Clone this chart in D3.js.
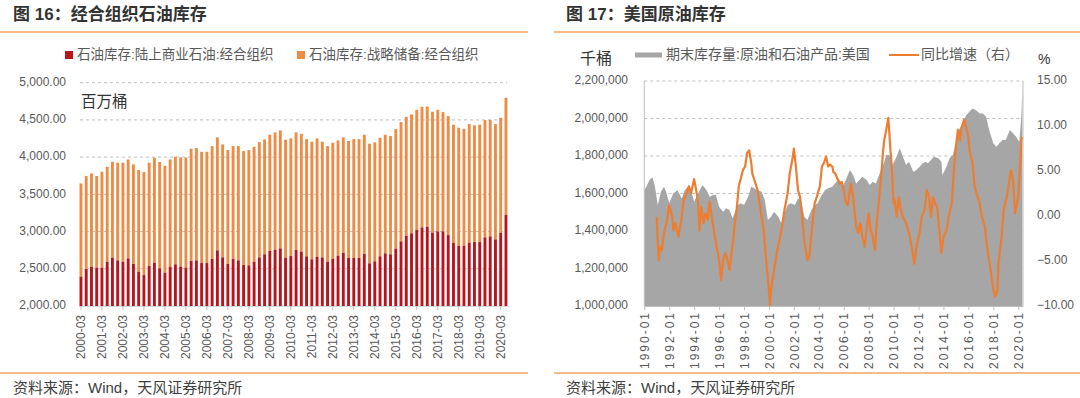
<!DOCTYPE html>
<html>
<head>
<meta charset="utf-8">
<script src="https://cdn.jsdelivr.net/npm/d3@7"></script>
<style>
  body { margin: 0; background: #fff; }
  svg { display: block; font-family: "Liberation Sans", "Noto Sans CJK SC", sans-serif; }
</style>
</head>
<body>
<svg id="chart" width="1080" height="398"></svg>
<script>
// ---- 图16 data: quarterly OECD stocks (million barrels)
const quarters = [
  "2000-03","2000-06","2000-09","2000-12","2001-03","2001-06","2001-09","2001-12",
  "2002-03","2002-06","2002-09","2002-12","2003-03","2003-06","2003-09","2003-12",
  "2004-03","2004-06","2004-09","2004-12","2005-03","2005-06","2005-09","2005-12",
  "2006-03","2006-06","2006-09","2006-12","2007-03","2007-06","2007-09","2007-12",
  "2008-03","2008-06","2008-09","2008-12","2009-03","2009-06","2009-09","2009-12",
  "2010-03","2010-06","2010-09","2010-12","2011-03","2011-06","2011-09","2011-12",
  "2012-03","2012-06","2012-09","2012-12","2013-03","2013-06","2013-09","2013-12",
  "2014-03","2014-06","2014-09","2014-12","2015-03","2015-06","2015-09","2015-12",
  "2016-03","2016-06","2016-09","2016-12","2017-03","2017-06","2017-09","2017-12",
  "2018-03","2018-06","2018-09","2018-12","2019-03","2019-06","2019-09","2019-12",
  "2020-03","2020-06"
];
const quarterTicks = ["2000-03","2001-03","2002-03","2003-03","2004-03","2005-03","2006-03",
  "2007-03","2008-03","2009-03","2010-03","2011-03","2012-03","2013-03","2014-03","2015-03",
  "2016-03","2017-03","2018-03","2019-03","2020-03"];
// 石油库存:陆上商业石油:经合组织
const commercial = [
  2394,2497,2524,2515,2515,2595,2649,2613,2595,2640,2564,2461,2416,2537,2582,2506,
  2448,2528,2560,2528,2515,2604,2613,2577,2577,2631,2748,2653,2564,2631,2613,2551,
  2546,2595,2653,2694,2739,2756,2774,2649,2671,2752,2730,2667,2627,2662,2653,2595,
  2636,2676,2712,2645,2645,2645,2698,2573,2600,2667,2707,2694,2770,2868,2944,2976,
  3021,3056,3065,2985,3003,3003,2953,2846,2806,2810,2850,2859,2859,2922,2935,2895,
  2985,3222
];
// 石油库存:战略储备:经合组织
const strategic = [
  1253,1249,1257,1231,1289,1276,1289,1312,1330,1329,1338,1365,1383,1388,1410,1428,
  1436,1441,1445,1468,1481,1509,1509,1495,1495,1517,1517,1518,1531,1517,1535,1530,
  1549,1544,1549,1544,1562,1576,1585,1585,1580,1580,1584,1575,1580,1589,1554,1553,
  1557,1549,1553,1571,1597,1597,1603,1607,1598,1593,1594,1589,1607,1603,1598,1598,
  1615,1621,1616,1625,1633,1602,1598,1589,1589,1571,1594,1567,1576,1576,1563,1549,
  1544,1576
];
const barTicks = [2000, 2500, 3000, 3500, 4000, 4500, 5000];

// ---- 图17 data: US crude + products stocks (thousand barrels), YoY %
const stockDates = [
  "1990-01","1990-03","1990-06","1990-09","1990-11","1991-02","1991-05","1991-08","1991-10",
  "1992-01","1992-05","1992-09","1993-01","1993-04","1993-07","1993-10","1994-01","1994-05",
  "1994-09","1995-01","1995-04","1995-07","1995-10","1996-01","1996-05","1996-08","1996-11",
  "1997-02","1997-07","1997-10","1998-01","1998-05","1998-08","1998-11","1999-02","1999-06",
  "1999-09","1999-12","2000-03","2000-06","2000-10","2001-01","2001-04","2001-07","2001-10",
  "2002-02","2002-05","2002-08","2002-11","2003-02","2003-06","2003-09","2003-12","2004-03",
  "2004-07","2004-10","2005-02","2005-06","2005-09","2005-12","2006-03","2006-07","2006-10",
  "2007-01","2007-04","2007-07","2007-11","2008-02","2008-05","2008-08","2008-11","2009-03",
  "2009-06","2009-09","2009-12","2010-04","2010-07","2010-10","2011-01","2011-04","2011-08",
  "2011-11","2012-02","2012-05","2012-08","2012-10","2013-01","2013-04","2013-08","2013-11",
  "2013-12","2014-04","2014-07","2014-10","2015-01","2015-04","2015-08","2015-11","2016-02",
  "2016-05","2016-08","2016-12","2017-03","2017-06","2017-09","2018-01","2018-04","2018-07",
  "2018-10","2019-01","2019-05","2019-08","2019-11","2020-02","2020-04","2020-05"
];
const stockValues = [
  1618000,1636000,1672000,1686000,1645000,1538000,1610000,1636000,1610000,
  1549000,1601000,1618000,1574000,1618000,1636000,1618000,1556000,1601000,
  1645000,1618000,1583000,1592000,1592000,1530000,1503000,1521000,1512000,
  1468000,1539000,1548000,1539000,1583000,1636000,1628000,1618000,1610000,
  1565000,1459000,1476000,1503000,1476000,1441000,1494000,1539000,1548000,
  1539000,1574000,1565000,1476000,1459000,1512000,1539000,1548000,1583000,
  1618000,1628000,1636000,1663000,1672000,1636000,1672000,1725000,1699000,
  1654000,1672000,1690000,1672000,1645000,1663000,1654000,1699000,1752000,
  1805000,1805000,1752000,1796000,1841000,1796000,1752000,1770000,1716000,
  1725000,1743000,1761000,1770000,1761000,1779000,1796000,1788000,1770000,
  1699000,1743000,1788000,1805000,1868000,1939000,1983000,2019000,2036000,
  2054000,2045000,2027000,2027000,2010000,1939000,1868000,1850000,1868000,
  1885000,1885000,1939000,1921000,1903000,1876000,2010000,2170000
];
const pctDates = [
  "1991-01","1991-02","1991-03","1991-04","1991-06","1991-08","1991-11","1992-01","1992-04",
  "1992-05","1992-07","1992-10","1993-01","1993-03","1993-05","1993-08","1993-10","1994-01",
  "1994-03","1994-05","1994-06","1994-08","1994-10","1994-12","1995-02","1995-04","1995-06",
  "1995-08","1995-10","1996-01","1996-03","1996-05","1996-07","1996-09","1996-11","1997-01",
  "1997-03","1997-04","1997-06","1997-08","1997-12","1998-02","1998-04","1998-06","1998-08",
  "1998-09","1998-11","1999-02","1999-05","1999-08","1999-10","2000-01","2000-02","2000-03",
  "2000-06","2000-09","2001-01","2001-04","2001-07","2001-09","2001-12","2002-01","2002-03",
  "2002-05","2002-07","2002-09","2002-11","2003-02","2003-04","2003-06","2003-09","2003-11",
  "2004-02","2004-04","2004-06","2004-08","2004-10","2004-12","2005-02","2005-03","2005-05",
  "2005-09","2005-11","2006-01","2006-03","2006-05","2006-08","2006-10","2007-01","2007-03",
  "2007-05","2007-07","2007-09","2007-11","2008-01","2008-03","2008-05","2008-07","2008-09",
  "2008-11","2009-01","2009-03","2009-04","2009-06","2009-08","2009-10","2009-11","2010-01",
  "2010-02","2010-04","2010-06","2010-08","2010-10","2011-01","2011-04","2011-07","2011-09",
  "2011-11","2012-02","2012-04","2012-07","2012-09","2012-11","2013-01","2013-03","2013-05",
  "2013-07","2013-09","2013-11","2014-01","2014-04","2014-06","2014-09","2014-11","2015-01",
  "2015-03","2015-05","2015-06","2015-09","2016-01","2016-02","2016-05","2016-07","2016-10",
  "2016-12","2017-02","2017-05","2017-07","2017-10","2018-01","2018-03","2018-05","2018-06",
  "2018-09","2018-11","2019-02","2019-04","2019-06","2019-08","2019-10","2019-11","2020-01",
  "2020-03","2020-04","2020-05"
];
const pctValues = [
  -0.1,-3.0,-4.9,-3.4,-3.8,-1.9,-0.4,1.2,-0.1,
  -1.6,-0.8,-2.3,-0.1,1.8,2.3,3.3,2.5,4.1,
  2.9,1.4,-1.6,1.0,-0.8,0.3,-0.4,1.6,-0.1,
  -1.6,-3.0,-4.9,-7.1,-4.9,-4.1,-4.9,-6.0,-4.1,
  -2.3,-1.0,0.8,3.3,5.1,5.5,7.0,7.3,5.9,
  4.7,4.0,2.9,0.7,-1.6,-4.5,-8.2,-10.0,-8.2,
  -6.0,-3.8,-1.6,0.7,2.5,4.7,6.6,7.5,5.5,
  2.9,2.1,-0.1,-2.7,-4.9,-4.5,-1.9,1.4,2.1,
  3.3,5.5,5.9,6.6,5.5,5.7,5.5,4.9,4.7,
  3.6,3.8,2.9,1.6,1.2,3.6,2.1,-1.2,-1.9,
  -0.8,-2.3,-3.4,-1.6,0.3,-1.6,-2.3,-3.8,-0.4,
  1.8,4.4,7.3,8.4,9.6,10.9,7.3,5.9,1.4,
  1.8,-0.1,2.1,0.7,-0.1,-0.8,-1.9,-3.8,-5.3,
  -3.4,-1.9,-0.1,0.7,2.9,2.1,-0.1,2.1,1.4,
  1.0,-1.6,-4.1,-2.3,-1.6,-0.1,1.4,5.1,7.7,
  9.6,8.4,9.6,10.7,8.8,7.3,5.9,3.3,2.1,
  1.4,-0.1,-1.2,-3.4,-5.6,-8.2,-9.0,-8.2,-5.3,
  -2.3,0.7,2.1,3.6,5.1,4.0,0.3,1.0,2.1,
  5.9,8.4,8.8
];
const stockTicks = [1000000, 1200000, 1400000, 1600000, 1800000, 2000000, 2200000];
const pctTicks = [-10, -5, 0, 5, 10, 15];
const yearTicks = ["1990-01","1992-01","1994-01","1996-01","1998-01","2000-01","2002-01","2004-01",
  "2006-01","2008-01","2010-01","2012-01","2014-01","2016-01","2018-01","2020-01"];

const svg = d3.select("#chart");
const labelColor = "#595959";
const gridColor = "#BFBFBF";
const rule = "#F2A462";

// headers and footers
function frame(x0, x1, tx, title) {
  svg.append("text").attr("x", tx).attr("y", 16).attr("dominant-baseline", "middle")
    .attr("font-size", 17).attr("font-weight", "bold").attr("fill", "#333").text(title);
  svg.append("line").attr("x1", x0).attr("x2", x1).attr("y1", 32).attr("y2", 32)
    .attr("stroke", rule).attr("stroke-width", 1.5);
  svg.append("line").attr("x1", x0).attr("x2", x1).attr("y1", 373).attr("y2", 373)
    .attr("stroke", rule).attr("stroke-width", 1.5);
  svg.append("text").attr("x", tx).attr("y", 389).attr("dominant-baseline", "middle")
    .attr("font-size", 15).attr("fill", "#404040").text("资料来源：Wind，天风证券研究所");
}
frame(0, 528, 13, "图 16：经合组织石油库存");
frame(554, 1080, 566, "图 17：美国原油库存");

// ---------------- left chart
const x = d3.scaleBand().domain(quarters).range([78.2, 508.7])
  .paddingInner(0.45).paddingOuter(0.25);
const y = d3.scaleLinear().domain([2000, 5000]).range([306, 82.7]);

const left = svg.append("g");
left.selectAll("line.grid").data(barTicks.filter(d => d > 2000)).enter().append("line")
  .attr("x1", 80).attr("x2", 507).attr("y1", d => y(d)).attr("y2", d => y(d))
  .attr("stroke", gridColor).attr("stroke-dasharray", "3,3");
left.selectAll("text.ytick").data(barTicks).enter().append("text")
  .attr("x", 66).attr("y", d => y(d)).attr("text-anchor", "end")
  .attr("dominant-baseline", "middle").attr("font-size", 12).attr("fill", labelColor)
  .text(d3.format(",.2f"));

const bars = left.selectAll("g.bar").data(quarters).enter().append("g");
bars.append("rect")
  .attr("x", d => x(d)).attr("width", x.bandwidth())
  .attr("y", (d, i) => y(commercial[i] + strategic[i]))
  .attr("height", (d, i) => y(commercial[i]) - y(commercial[i] + strategic[i]))
  .attr("fill", "#EE8B45");
bars.append("rect")
  .attr("x", d => x(d)).attr("width", x.bandwidth())
  .attr("y", (d, i) => y(commercial[i]))
  .attr("height", (d, i) => y(2000) - y(commercial[i]))
  .attr("fill", "#B8141C");

const xAxis = left.append("g").attr("transform", "translate(0,306)")
  .call(d3.axisBottom(x).tickValues(quarterTicks).tickSize(4).tickSizeOuter(0));
xAxis.select(".domain").attr("stroke", "#D9D9D9");
xAxis.selectAll(".tick line").attr("stroke", "#BFBFBF");
xAxis.selectAll("text").attr("transform", "rotate(-90)").attr("text-anchor", "end")
  .attr("x", -9).attr("y", 0).attr("dy", "0.35em")
  .attr("font-size", 12).attr("fill", labelColor).attr("font-family", "Liberation Sans");

left.append("text").attr("x", 81).attr("y", 103).attr("dominant-baseline", "middle")
  .attr("font-size", 15.5).attr("fill", "#333").text("百万桶");

const legL = [
  { c: "#B8141C", x: 65, t: "石油库存:陆上商业石油:经合组织" },
  { c: "#EE8B45", x: 297, t: "石油库存:战略储备:经合组织" }
];
legL.forEach(l => {
  left.append("rect").attr("x", l.x).attr("y", 51).attr("width", 8).attr("height", 8).attr("fill", l.c);
  left.append("text").attr("x", l.x + 12).attr("y", 55).attr("dominant-baseline", "middle")
    .attr("font-size", 13.5).attr("fill", labelColor).text(l.t);
});

// ---------------- right chart
const parseM = d3.timeParse("%Y-%m");
const xt = d3.scaleTime().domain([new Date(1990, 0, 1), new Date(2020, 4, 20)]).range([644.3, 1023]);
const yl = d3.scaleLinear().domain([1000000, 2200000]).range([306, 81]);
const yr = d3.scaleLinear().domain([-10, 15]).range([306, 81]);

const right = svg.append("g");
right.selectAll("line.grid").data(stockTicks.filter(d => d > 1000000)).enter().append("line")
  .attr("x1", 644.3).attr("x2", 1023).attr("y1", d => yl(d)).attr("y2", d => yl(d))
  .attr("stroke", gridColor).attr("stroke-dasharray", "3,3");

const stock = stockDates.map((d, i) => ({ date: parseM(d), v: stockValues[i] }));
const pct = pctDates.map((d, i) => ({ date: parseM(d), v: pctValues[i] }));

right.append("path").datum(stock)
  .attr("d", d3.area().x(d => xt(d.date)).y0(yl(1000000)).y1(d => yl(d.v)))
  .attr("fill", "#A6A6A6");
right.append("path").datum(pct)
  .attr("d", d3.line().x(d => xt(d.date)).y(d => yr(d.v)))
  .attr("fill", "none").attr("stroke", "#ED7D31").attr("stroke-width", 2.2)
  .attr("stroke-linejoin", "round");

right.append("line").attr("x1", 644.3).attr("x2", 644.3).attr("y1", 81).attr("y2", 306).attr("stroke", gridColor);
right.append("line").attr("x1", 1023).attr("x2", 1023).attr("y1", 81).attr("y2", 306).attr("stroke", gridColor);

const tAxis = right.append("g").attr("transform", "translate(0,306)")
  .call(d3.axisBottom(xt).tickValues(yearTicks.map(parseM)).tickFormat(d3.timeFormat("%Y-%m"))
    .tickSize(4).tickSizeOuter(0));
tAxis.select(".domain").attr("stroke", gridColor);
tAxis.selectAll(".tick line").attr("stroke", gridColor);
tAxis.selectAll("text").attr("transform", "rotate(-90)").attr("text-anchor", "end")
  .attr("x", -5).attr("y", 0).attr("dy", "0.35em").attr("letter-spacing", 2)
  .attr("font-size", 12).attr("fill", labelColor).attr("font-family", "Liberation Sans");

right.selectAll("text.yl").data(stockTicks).enter().append("text")
  .attr("x", 628).attr("y", d => yl(d)).attr("text-anchor", "end")
  .attr("dominant-baseline", "middle").attr("font-size", 12).attr("fill", labelColor)
  .text(d3.format(",d"));
right.selectAll("text.yr").data(pctTicks).enter().append("text")
  .attr("x", 1037).attr("y", d => yr(d)).attr("text-anchor", "start")
  .attr("dominant-baseline", "middle").attr("font-size", 12).attr("fill", labelColor)
  .text(d3.format(".2f"));

right.append("text").attr("x", 580).attr("y", 60).attr("dominant-baseline", "middle")
  .attr("font-size", 16).attr("fill", "#333").text("千桶");
right.append("text").attr("x", 1038).attr("y", 60).attr("dominant-baseline", "middle")
  .attr("font-size", 14).attr("fill", "#333").text("%");
right.append("rect").attr("x", 635).attr("y", 52.5).attr("width", 27).attr("height", 5).attr("fill", "#A6A6A6");
right.append("text").attr("x", 666).attr("y", 55).attr("dominant-baseline", "middle")
  .attr("font-size", 14).attr("fill", labelColor).text("期末库存量:原油和石油产品:美国");
right.append("line").attr("x1", 889).attr("x2", 919).attr("y1", 55).attr("y2", 55)
  .attr("stroke", "#ED7D31").attr("stroke-width", 2);
right.append("text").attr("x", 921).attr("y", 55).attr("dominant-baseline", "middle")
  .attr("font-size", 14).attr("fill", labelColor).text("同比增速（右）");
</script>
</body>
</html>
